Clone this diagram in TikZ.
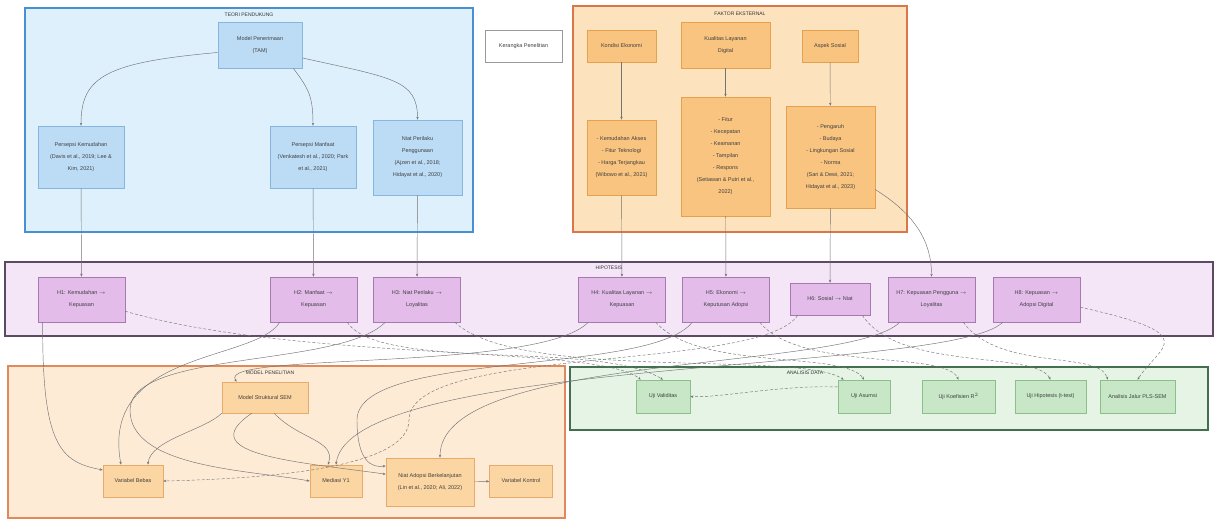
\documentclass[tikz,border=0pt]{standalone}
\usepackage{fontspec}
\setmainfont{Liberation Sans}
\usetikzlibrary{arrows.meta}
\definecolor{bluebg}{HTML}{DDF0FC}
\definecolor{bluebd}{HTML}{4A8FD0}
\definecolor{bluenode}{HTML}{BCDCF6}
\definecolor{bluenbd}{HTML}{86B6E0}
\definecolor{orangebg}{HTML}{FDE2BE}
\definecolor{orangebd}{HTML}{D9764A}
\definecolor{orangenode}{HTML}{F9C47F}
\definecolor{orangenbd}{HTML}{E5A050}
\definecolor{purplebg}{HTML}{F4E6F7}
\definecolor{purplebd}{HTML}{5C4A63}
\definecolor{purplenode}{HTML}{E3BCEA}
\definecolor{purplenbd}{HTML}{A679B1}
\definecolor{lightbg}{HTML}{FDEBD6}
\definecolor{lightbd}{HTML}{E08A5C}
\definecolor{lightnode}{HTML}{FBD6A2}
\definecolor{lightnbd}{HTML}{E6AA6C}
\definecolor{greenbg}{HTML}{E5F4E5}
\definecolor{greenbd}{HTML}{436F50}
\definecolor{greennode}{HTML}{C7E7C7}
\definecolor{greennbd}{HTML}{8DBF8D}
\tikzset{
  box/.style={draw,align=center,inner sep=1pt,line width=0.6pt,
    font=\fontsize{5.5}{12}\selectfont,text=black!75},
  bbox/.style={box,draw=bluenbd,fill=bluenode},
  obox/.style={box,draw=orangenbd,fill=orangenode},
  pbox/.style={box,draw=purplenbd,fill=purplenode},
  lbox/.style={box,draw=lightnbd,fill=lightnode},
  gbox/.style={box,draw=greennbd,fill=greennode},
  clus/.style={line width=1.2pt},
  ctitle/.style={font=\fontsize{5}{6}\selectfont,text=black!80},
  conn/.style={draw=black!55,line width=0.45pt,-{Stealth[length=3pt,width=2.4pt]}},
  dconn/.style={conn,dash pattern=on 3pt off 2pt}
}
\begin{document}
\begin{tikzpicture}[x=1pt,y=-1pt]
\useasboundingbox[fill=white] (0,0) rectangle (1215,522);
% groups
\draw[clus,draw=bluebd,fill=bluebg] (25,8) rectangle (473,232);
\node[ctitle,name=tteori] at (249,15){TEORI PENDUKUNG};
\draw[clus,draw=orangebd,fill=orangebg] (573,6) rectangle (907,232);
\node[ctitle,name=tfaktor] at (740,14){FAKTOR EKSTERNAL};
\draw[clus,draw=purplebd,fill=purplebg] (5,262) rectangle (1213,336);
\node[ctitle,name=thipo] at (609,268){HIPOTESIS};
\draw[clus,draw=lightbd,fill=lightbg] (8,366) rectangle (565,518);
\node[ctitle,name=tmodel] at (270,373){MODEL PENELITIAN};
\draw[clus,draw=greenbd,fill=greenbg] (570,367) rectangle (1208,430);
\node[ctitle,name=tanalisis] at (805,373){ANALISIS DATA};

% teori
\node[bbox,minimum width=84pt,minimum height=46pt,name=tam] at (260,45){Model Penerimaan\\(TAM)};
\node[bbox,minimum width=86pt,minimum height=62pt,name=peou] at (81,157){Persepsi Kemudahan\\(Davis et al., 2019; Lee \&\\Kim, 2021)};
\node[bbox,minimum width=86pt,minimum height=62pt,name=pu] at (313,157){Persepsi Manfaat\\(Venkatesh et al., 2020; Park\\et al., 2021)};
\node[bbox,minimum width=89pt,minimum height=75pt,name=bi] at (417.5,157.5){Niat Perilaku\\Penggunaan\\(Ajzen et al., 2018;\\Hidayat et al., 2020)};
\node[box,draw=black!40,fill=white,minimum width=77pt,minimum height=32pt,name=kerangka] at (523.5,46){Kerangka Penelitian};

% faktor
\node[obox,minimum width=69pt,minimum height=32pt,name=eko] at (621.5,46){Kondisi Ekonomi};
\node[obox,minimum width=89pt,minimum height=46pt,name=lay] at (725.5,45){Kualitas Layanan\\Digital};
\node[obox,minimum width=56pt,minimum height=32pt,name=sos] at (830,46){Aspek Sosial};
\node[obox,minimum width=69pt,minimum height=75pt,name=eko2] at (621.5,157.5){- Kemudahan Akses\\- Fitur Teknologi\\- Harga Terjangkau\\(Wibowo et al., 2021)};
\node[obox,minimum width=89pt,minimum height=119pt,name=lay2] at (725.5,156.5){- Fitur\\- Kecepatan\\- Keamanan\\- Tampilan\\- Respons\\(Setiawan \& Putri et al.,\\2022)};
\node[obox,minimum width=89pt,minimum height=102pt,name=sos2] at (830.5,157){- Pengaruh\\- Budaya\\- Lingkungan Sosial\\- Norma\\(Sari \& Dewi, 2021;\\Hidayat et al., 2023)};

% hipotesis
\foreach \n/\x/\t in {h1/81.5/{H1: Kemudahan $\to$\\Kepuasan},
  h2/313.5/{H2: Manfaat $\to$\\Kepuasan},
  h3/417/{H3: Niat Perilaku $\to$\\Loyalitas},
  h4/622/{H4: Kualitas Layanan $\to$\\Kepuasan},
  h5/726/{H5: Ekonomi $\to$\\Keputusan Adopsi},
  h7/931.5/{H7: Kepuasan Pengguna $\to$\\Loyalitas},
  h8/1036.5/{H8: Kepuasan $\to$\\Adopsi Digital}}{
  \node[pbox,minimum width=87pt,minimum height=45pt,name=\n] at (\x,299.5){\t};
};
\node[pbox,minimum width=80pt,minimum height=32pt,name=h6] at (830,299){H6: Sosial $\to$ Niat};

% model
\node[lbox,minimum width=86pt,minimum height=31pt,name=sem] at (265,397.5){Model Struktural SEM};
\node[lbox,minimum width=60pt,minimum height=32pt,name=bebas] at (133,481){Variabel Bebas};
\node[lbox,minimum width=52pt,minimum height=32pt,name=mediasi] at (336,481){Mediasi Y1};
\node[lbox,minimum width=88pt,minimum height=48pt,name=adopsi] at (430,482){Niat Adopsi Berkelanjutan\\(Lin et al., 2020; Ali, 2022)};
\node[lbox,minimum width=63pt,minimum height=32pt,name=kontrol] at (521,481){Variabel Kontrol};

% analisis
\node[gbox,minimum width=54pt,minimum height=33pt,name=valid] at (663,396.5){Uji Validitas};
\node[gbox,minimum width=52pt,minimum height=33pt,name=asumsi] at (864,396.5){Uji Asumsi};
\node[gbox,minimum width=73pt,minimum height=33pt,name=koef] at (958.5,396.5){Uji Koefisien R$^2$};
\node[gbox,minimum width=71pt,minimum height=33pt,name=uji] at (1050.5,396.5){Uji Hipotesis (t-test)};
\node[gbox,minimum width=75pt,minimum height=33pt,name=jalur] at (1137.5,396.5){Analisis Jalur PLS-SEM};

% arrows
\draw[conn] (tam.190) .. controls +(-110,10) and +(0,-50) .. (peou.north);
\draw[conn] (tam.-35) .. controls +(15,20) and +(0,-30) .. (pu.north);
\draw[conn] (tam.-17) .. controls +(90,20) and +(0,-40) .. (bi.north);
\foreach \a/\b in {peou/h1,pu/h2,bi/h3,eko/eko2,lay/lay2,sos/sos2,eko2/h4,lay2/h5,sos2/h6,adopsi/kontrol}{
  \draw[conn] (\a)--(\b);
};
\draw[conn] (sos2.-36) .. controls +(40,25) and +(0,-35) .. (h7.north);

\draw[conn] ([xshift=5pt]h1.south west) .. controls (42,445) and (60,462) .. (bebas.160);
\draw[dconn] (h1.-15) .. controls (300,362) and (600,345) .. ([xshift=5pt]valid.north west);
\draw[conn] ([xshift=10pt]h2.south west) .. controls (255,362) and (100,350) .. ([xshift=-12pt]bebas.north);
\draw[dconn] ([xshift=-10pt]h2.south east) .. controls (380,372) and (600,340) .. (valid.north);
\draw[conn] ([xshift=12pt]h3.south west) .. controls (340,368) and (130,350) .. (130,410)
  .. controls (130,468) and (250,470) .. (mediasi.west);
\draw[dconn] ([xshift=-6pt]h3.south east) .. controls (520,382) and (800,350) .. ([xshift=6pt]asumsi.north west);
\draw[conn] ([xshift=10pt]h4.south west) .. controls (540,372) and (215,352) .. ([xshift=15pt]sem.north west);
\draw[dconn] ([xshift=-10pt]h4.south east) .. controls (700,372) and (845,350) .. (asumsi.north);
\draw[conn] ([xshift=10pt]h5.south west) .. controls (650,376) and (357,350) .. (357,420)
  .. controls (357,462) and (372,468) .. (adopsi.160);
\draw[dconn] ([xshift=-10pt]h5.south east) .. controls (800,372) and (945,350) .. (koef.north);
\draw[dconn] ([xshift=8pt]h6.south west) .. controls (760,372) and (409,345) .. (409,420)
  .. controls (409,462) and (300,478) .. (bebas.east);
\draw[dconn] ([xshift=-8pt]h6.south east) .. controls (900,372) and (1035,350) .. (uji.north);
\draw[conn] ([xshift=12pt]h7.south west) .. controls (850,372) and (440,352) .. ([xshift=10pt]adopsi.north);
\draw[dconn] ([xshift=-12pt]h7.south east) .. controls (1000,372) and (1100,350) .. ([xshift=8pt]jalur.north west);
\draw[conn] ([xshift=10pt]h8.south west) .. controls (950,374) and (350,356) .. (mediasi.north);
\draw[dconn] (h8.-10) .. controls (1205,335) and (1160,345) .. (jalur.north);

\draw[conn] (sem.200) .. controls (205,430) and (150,440) .. ([xshift=15pt]bebas.north);
\draw[conn] (sem.230) .. controls (190,455) and (300,462) .. (adopsi.170);
\draw[conn] (sem.-60) .. controls (300,440) and (336,440) .. ([xshift=-8pt]mediasi.north);
\draw[dconn] (asumsi.160) .. controls (780,385) and (720,398) .. (valid.east);
\end{tikzpicture}
\end{document}
